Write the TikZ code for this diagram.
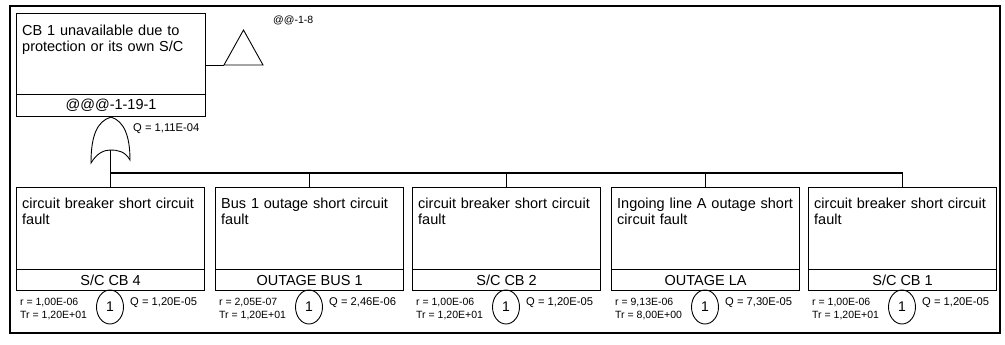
\documentclass[tikz,border=0pt]{standalone}
\usepackage{fontspec}
\setmainfont{Liberation Sans}
\usetikzlibrary{shapes.geometric}
\begin{document}
\begin{tikzpicture}[x=1pt,y=-1pt,
  box/.style={draw, line width=1.1pt, rectangle, inner sep=0pt, anchor=north west},
  btext/.style={anchor=north west, inner sep=0pt, align=left, text width=182pt, font=\fontsize{14.5}{16}\selectfont},
  ltext/.style={inner sep=0pt, font=\fontsize{14.5}{16}\selectfont},
  small/.style={inner sep=0pt, anchor=base west, font=\fontsize{10.5}{12}\selectfont},
  qtext/.style={small, font=\fontsize{11.2}{13}\selectfont},
  evt/.style={draw, ellipse, line width=0.9pt, minimum width=27pt, minimum height=34pt, inner sep=0pt, font=\fontsize{14}{16}\selectfont},
  wire/.style={line width=1.1pt},
  frame/.style={line width=2.5pt}]
\useasboundingbox (0,0) rectangle (1005,345);
\draw[frame] (10,6) rectangle (1000,333);

% top event
\node[box, minimum width=189pt, minimum height=81pt] (topb) at (16,13) {};
\node[box, minimum width=189pt, minimum height=22pt] (topl) at (16,94) {};
\node[btext] (topt) at (22,24.3) {CB 1 unavailable due to\\protection or its own S/C};
\node[ltext] (toplt) at (topl.center) {@@@-1-19-1};

% transfer triangle
\coordinate (trL) at (224,65);
\coordinate (trT) at (243.5,30);
\coordinate (trR) at (263,65);
\draw[line width=0.9pt] (topb.east |- trL) -- (trL);
\draw[line width=0.9pt] (trL) -- (trT) -- (trR) -- cycle;
\node[small] (trlab) at (273,23.5) {@@-1-8};

% OR gate
\coordinate (gA) at (topl.south);
\coordinate (gL) at (91,163);
\coordinate (gR) at (130,160);
\coordinate (gout) at (110.5,150);
\draw[line width=0.9pt] (gA) .. controls (97,121) and (91,136) .. (gL)
  .. controls (97,153) and (104,150) .. (gout)
  .. controls (117,150) and (125,151) .. (gR)
  .. controls (130,136) and (124,121) .. (gA);
\node[qtext] (gq) at (133,131.5) {Q = 1,11E-04};

% basic events
\foreach \n/\x/\txt/\lab/\rr/\tr/\qq in {
  1/16/{circuit breaker short circuit\\fault}/{S/C CB 4}/{1,00E-06}/{1,20E+01}/{1,20E-05},
  2/215/{Bus 1 outage short circuit\\fault}/{OUTAGE BUS 1}/{2,05E-07}/{1,20E+01}/{2,46E-06},
  3/412/{circuit breaker short circuit\\fault}/{S/C CB 2}/{1,00E-06}/{1,20E+01}/{1,20E-05},
  4/611/{Ingoing line A outage short\\circuit fault}/{OUTAGE LA}/{9,13E-06}/{8,00E+00}/{7,30E-05},
  5/808/{circuit breaker short circuit\\fault}/{S/C CB 1}/{1,00E-06}/{1,20E+01}/{1,20E-05}}
{
  \node[box, minimum width=188pt, minimum height=82pt] (b\n) at (\x,187) {};
  \node[box, minimum width=188pt, minimum height=21pt] (l\n) at (\x,269) {};
  \node[btext] (t\n) at (\x+6,197.3) {\txt};
  \node[ltext] (lt\n) at (l\n.center) {\lab};
  \node[evt] (e\n) at (\x+94,307) {1};
  \node[small] (r\n) at (\x+4,305) {r = \rr};
  \node[small] (tr\n) at (\x+4,318) {Tr = \tr};
  \node[qtext] (q\n) at (\x+114,305) {Q = \qq};
}

% connectors
\coordinate (bus) at (gout |- 0,173);
\draw[wire] (gout) -- (bus) -- (b5.north |- bus) -- (b5.north);
\foreach \n in {1,2,3,4}
  \draw[wire] (b\n.north |- bus) -- (b\n.north);
\end{tikzpicture}
\end{document}
